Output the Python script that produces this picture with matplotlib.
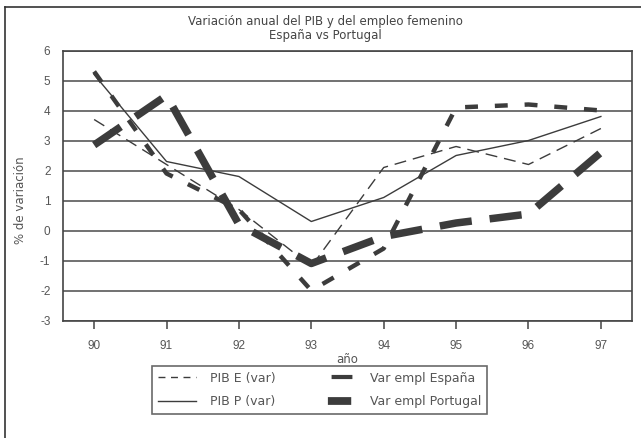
import matplotlib.pyplot as plt
from matplotlib.lines import Line2D

plt.rcParams['font.family'] = ['Liberation Sans', 'DejaVu Sans']
plt.rcParams['axes.unicode_minus'] = False

# variación anual (%), 1990-1997
anios = [90, 91, 92, 93, 94, 95, 96, 97]
pib_e = [3.7, 2.2, 0.7, -1.2, 2.1, 2.8, 2.2, 3.4]
pib_p = [5.2, 2.3, 1.8, 0.3, 1.1, 2.5, 3.0, 3.8]
empl_esp = [5.3, 1.9, 0.7, -2.0, -0.6, 4.1, 4.2, 4.0]
empl_por = [2.85, 4.5, 0.2, -1.1, -0.2, 0.25, 0.55, 2.6]
etiquetas = ['PIB E (var)', 'PIB P (var)', 'Var empl España', 'Var empl Portugal']

gris = '#3c3c3c'
texto = '#555555'
letra = 'DejaVu Sans'

fig = plt.figure(figsize=(6.41, 4.38), dpi=100)
ax = fig.add_axes([63 / 641, 1 - 320.5 / 438, 569 / 641, 270 / 438])

ax.plot(anios, pib_e, color=gris, lw=1.0, linestyle=(0, (8.6, 5.0)))
ax.plot(anios, pib_p, color=gris, lw=1.0)
ax.plot(anios, empl_esp, color=gris, lw=3.2, linestyle=(0, (2.9, 3.8)))
ax.plot(anios, empl_por, color=gris, lw=5.4, linestyle=(0, (4.3, 2.4)))

ax.set_xlim(89.57, 97.43)
ax.set_ylim(-3, 6)
ax.set_xticks(anios)
ax.set_xticklabels([str(a) for a in anios])
ax.set_yticks(range(-3, 7))
ax.yaxis.grid(True, color='#4a4a4a', lw=1.1)
ax.set_axisbelow(True)
ax.tick_params(axis='y', length=0, pad=9, labelsize=8.5, labelcolor=texto)
ax.tick_params(axis='x', length=6, width=1.1, color='#444444', pad=8,
               labelsize=8.5, labelcolor=texto)
for s in ax.spines.values():
    s.set_color('#444444')
    s.set_linewidth(1.2)

ax.set_xlabel('año', fontsize=8.5, color=texto, family=letra, labelpad=1)
ax.set_ylabel('% de variación', fontsize=8.5, color=texto, family=letra)
ax.yaxis.set_label_coords(-0.064, 0.445)
fig.text(0.508, 0.965, 'Variación anual del PIB y del empleo femenino\nEspaña vs Portugal',
         ha='center', va='top', fontsize=8.5, color='#444444', family=letra,
         linespacing=1.05)

# muestras de la leyenda
h_e = Line2D([], [], color=gris, lw=1.0, linestyle=(0, (5.0, 4.0)))
h_p = Line2D([], [], color=gris, lw=1.0)
h_esp = Line2D([], [], color=gris, lw=3.0, linestyle=(11.5, (5.0, 10.0)))
h_por = Line2D([], [], color=gris, lw=5.6, linestyle=(6.6, (3.0, 5.0)))
leg = fig.legend([h_e, h_p, h_esp, h_por], etiquetas, ncol=2,
                 loc='upper left', bbox_to_anchor=(152 / 641, 1 - 366 / 438),
                 borderaxespad=0, frameon=True, fancybox=False,
                 edgecolor='#444444', prop={'family': letra, 'size': 9},
                 handlelength=3.1, handletextpad=1.1,
                 columnspacing=3.3, borderpad=0.45, labelspacing=0.85)
leg.get_frame().set_linewidth(1.2)
for t in leg.get_texts():
    t.set_color(texto)

# marco exterior del gráfico
fig.add_artist(Line2D([5 / 641, 1], [1 - 7 / 438, 1 - 7 / 438],
                      transform=fig.transFigure, color='#333333', lw=1.2))
fig.add_artist(Line2D([5 / 641, 5 / 641], [0, 1 - 7 / 438],
                      transform=fig.transFigure, color='#333333', lw=1.2))

fig.savefig('out.png', dpi=100)
